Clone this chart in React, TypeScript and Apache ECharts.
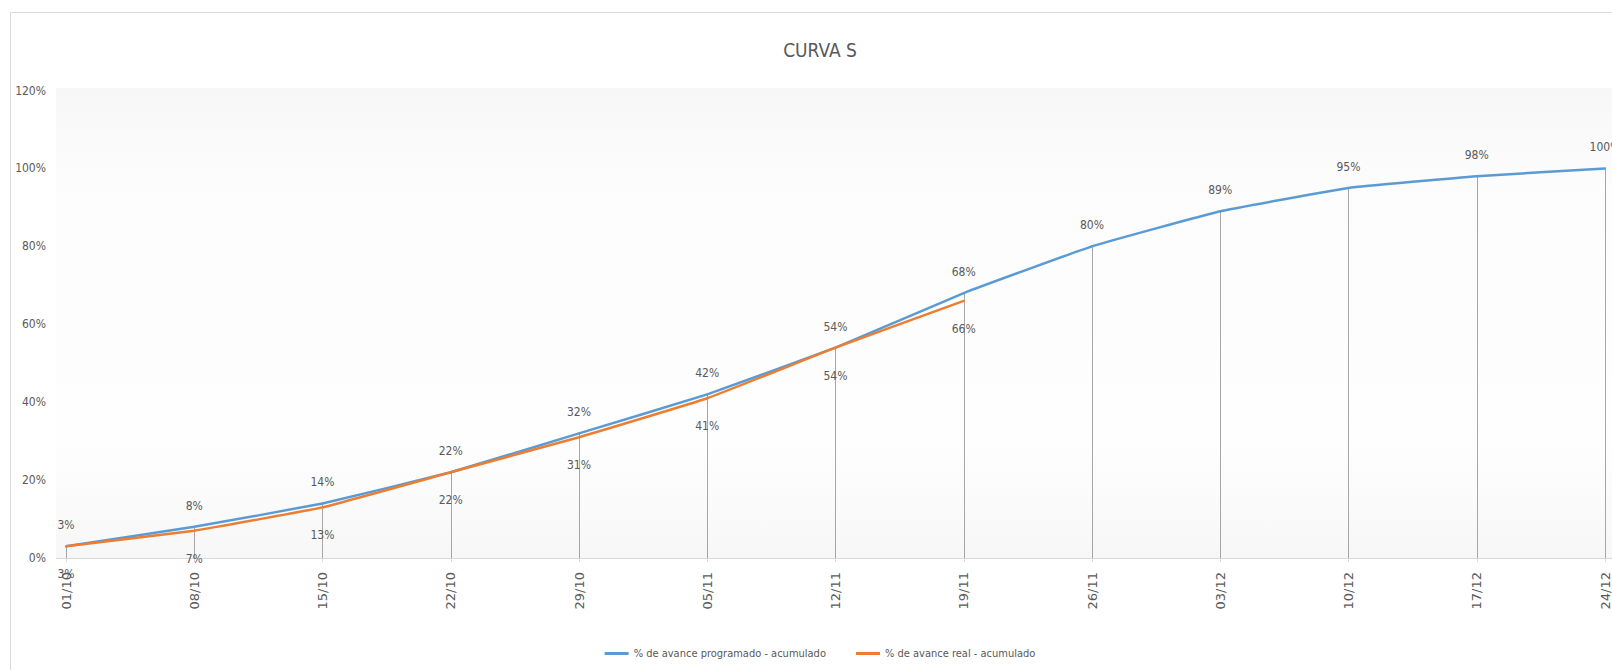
import React, { useEffect, useRef } from "react";
import * as echarts from "echarts";

const categories = ["01/10", "08/10", "15/10", "22/10", "29/10", "05/11", "12/11", "19/11", "26/11", "03/12", "10/12", "17/12", "24/12"];
const planned = [3, 8, 14, 22, 32, 42, 54, 68, 80, 89, 95, 98, 100];
const actual = [3, 7, 13, 22, 31, 41, 54, 66];
const yTicks = { min: 0, max: 120, interval: 20 };

const NARROW = "'Liberation Sans Narrow', 'DejaVu Sans Condensed', 'Open Sans', sans-serif";
const GREY = "#595959";

export default function App() {
  const ref = useRef<HTMLDivElement>(null);
  useEffect(() => {
    if (!ref.current) return;
    const chart = echarts.init(ref.current, undefined, { renderer: "svg" });
    chart.setOption({
      animation: false,
      backgroundColor: "#ffffff",
      title: {
        text: "CURVA S",
        left: "center",
        top: 35,
        textStyle: { fontFamily: NARROW, fontSize: 19, fontWeight: "normal", color: GREY },
      },
      legend: {
        data: ["% de avance programado - acumulado", "% de avance real - acumulado"],
        left: "center",
        top: 643,
        icon: "rect",
        itemWidth: 24,
        itemHeight: 3,
        itemGap: 30,
        itemStyle: { borderWidth: 0 },
        textStyle: { fontFamily: NARROW, fontSize: 11, color: GREY },
      },
      graphic: [
        {
          type: "rect",
          z: -10,
          shape: { x: 10.5, y: 12.5, width: 1700, height: 700 },
          style: { fill: "none", stroke: "#d9d9d9", lineWidth: 1 },
        },
        {
          type: "rect",
          z: -5,
          shape: { x: 56, y: 88, width: 1640, height: 470 },
          style: {
            fill: new echarts.graphic.LinearGradient(0, 0, 0, 1, [
              { offset: 0, color: "#f7f7f7" },
              { offset: 0.2, color: "#fcfcfc" },
              { offset: 0.75, color: "#fefefe" },
              { offset: 1, color: "#f7f7f7" },
            ]),
          },
        },
        {
          type: "line",
          z: 1,
          shape: { x1: 56, y1: 558.5, x2: 1700, y2: 558.5 },
          style: { stroke: "#d9d9d9", lineWidth: 1 },
        },
      ],
      grid: { left: 66, right: 35, top: 90.5, bottom: 112, containLabel: false },
      xAxis: {
        type: "category",
        data: categories,
        boundaryGap: false,
        axisLine: { show: false },
        axisTick: { show: true, length: 4, lineStyle: { color: "#d9d9d9" } },
        axisLabel: {
          rotate: 90,
          margin: 14,
          interval: 0,
          fontFamily: "'DejaVu Sans', sans-serif",
          fontSize: 13,
          color: GREY,
        },
        splitLine: { show: false },
      },
      yAxis: {
        type: "value",
        min: yTicks.min,
        max: yTicks.max,
        interval: yTicks.interval,
        axisLine: { show: false },
        axisTick: { show: false },
        splitLine: { show: false },
        axisLabel: {
          formatter: "{value}%",
          margin: 20,
          fontFamily: NARROW,
          fontSize: 12,
          color: GREY,
        },
      },
      series: [
        {
          name: "% de avance programado - acumulado",
          type: "line",
          data: planned,
          smooth: 0.1,
          symbol: "circle",
          symbolSize: 2,
          showSymbol: true,
          z: 3,
          lineStyle: { color: "#5B9BD5", width: 2.5 },
          itemStyle: { color: "#5B9BD5" },
          label: {
            show: true,
            position: "top",
            distance: 14,
            formatter: "{c}%",
            fontFamily: NARROW,
            fontSize: 12,
            color: GREY,
          },
          markLine: {
            silent: true,
            symbol: ["none", "none"],
            label: { show: false },
            lineStyle: { color: "#a6a6a6", width: 1, type: "solid" },
            data: planned.map((v, i) => [
              { coord: [categories[i], 0] },
              { coord: [categories[i], v] },
            ]),
            z: 1,
          },
        },
        {
          name: "% de avance real - acumulado",
          type: "line",
          data: actual,
          smooth: 0.1,
          symbol: "circle",
          symbolSize: 2,
          showSymbol: true,
          z: 4,
          lineStyle: { color: "#ED7D31", width: 2.5 },
          itemStyle: { color: "#ED7D31" },
          label: {
            show: true,
            position: "bottom",
            distance: 21,
            formatter: "{c}%",
            fontFamily: NARROW,
            fontSize: 12,
            color: GREY,
          },
        },
      ],
    });
    return () => chart.dispose();
  }, []);
  return (
    <div style={{ position: "absolute", left: 0, top: 0, width: 1612, height: 670, overflow: "hidden", background: "#fff" }}>
      <div ref={ref} style={{ width: 1640, height: 670 }} />
    </div>
  );
}
